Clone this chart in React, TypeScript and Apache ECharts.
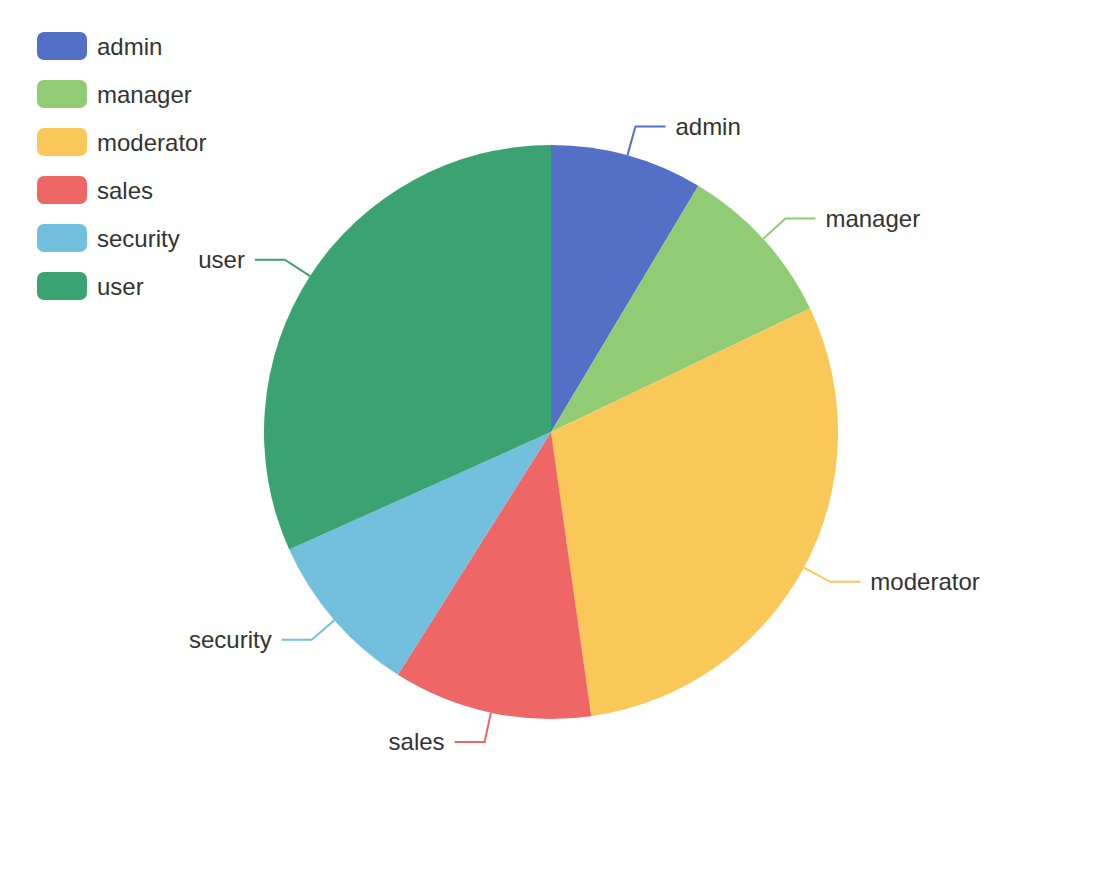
import React, { useEffect, useRef } from "react";
import * as echarts from "echarts";

// Users per role
const roles = ["admin", "manager", "moderator", "sales", "security", "user"];
const counts = [23, 25, 80, 30, 25, 85];
const palette = ["#5470c6", "#91cc75", "#fac858", "#ee6666", "#73c0de", "#3ba272"];

const FONT = "'Liberation Sans', Helvetica, Arial, sans-serif";

export default function App() {
  const ref = useRef<HTMLDivElement>(null);

  useEffect(() => {
    if (!ref.current) return;
    const chart = echarts.init(ref.current, undefined, { renderer: "svg" });
    chart.setOption({
      animation: false,
      color: palette,
      textStyle: { fontFamily: FONT },
      legend: {
        orient: "vertical",
        left: 32,
        top: 27,
        itemWidth: 50,
        itemHeight: 28,
        itemGap: 20,
        textStyle: { fontSize: 24, color: "#333", fontFamily: FONT, padding: [0, 0, 0, 5] },
        data: roles,
      },
      series: [
        {
          type: "pie",
          center: [551, 432],
          radius: 287,
          startAngle: 90,
          clockwise: true,
          label: {
            show: true,
            fontSize: 24,
            color: "#333",
            fontFamily: FONT,
            distanceToLabelLine: 10,
          },
          labelLine: {
            length: 30,
            length2: 30,
            lineStyle: { width: 2 },
          },
          data: roles.map((name, i) => ({ name, value: counts[i] })),
        },
      ],
    });
    return () => chart.dispose();
  }, []);

  return (
    <div
      ref={ref}
      style={{ position: "fixed", left: 0, top: 0, width: 1108, height: 876, background: "#fff" }}
    />
  );
}
